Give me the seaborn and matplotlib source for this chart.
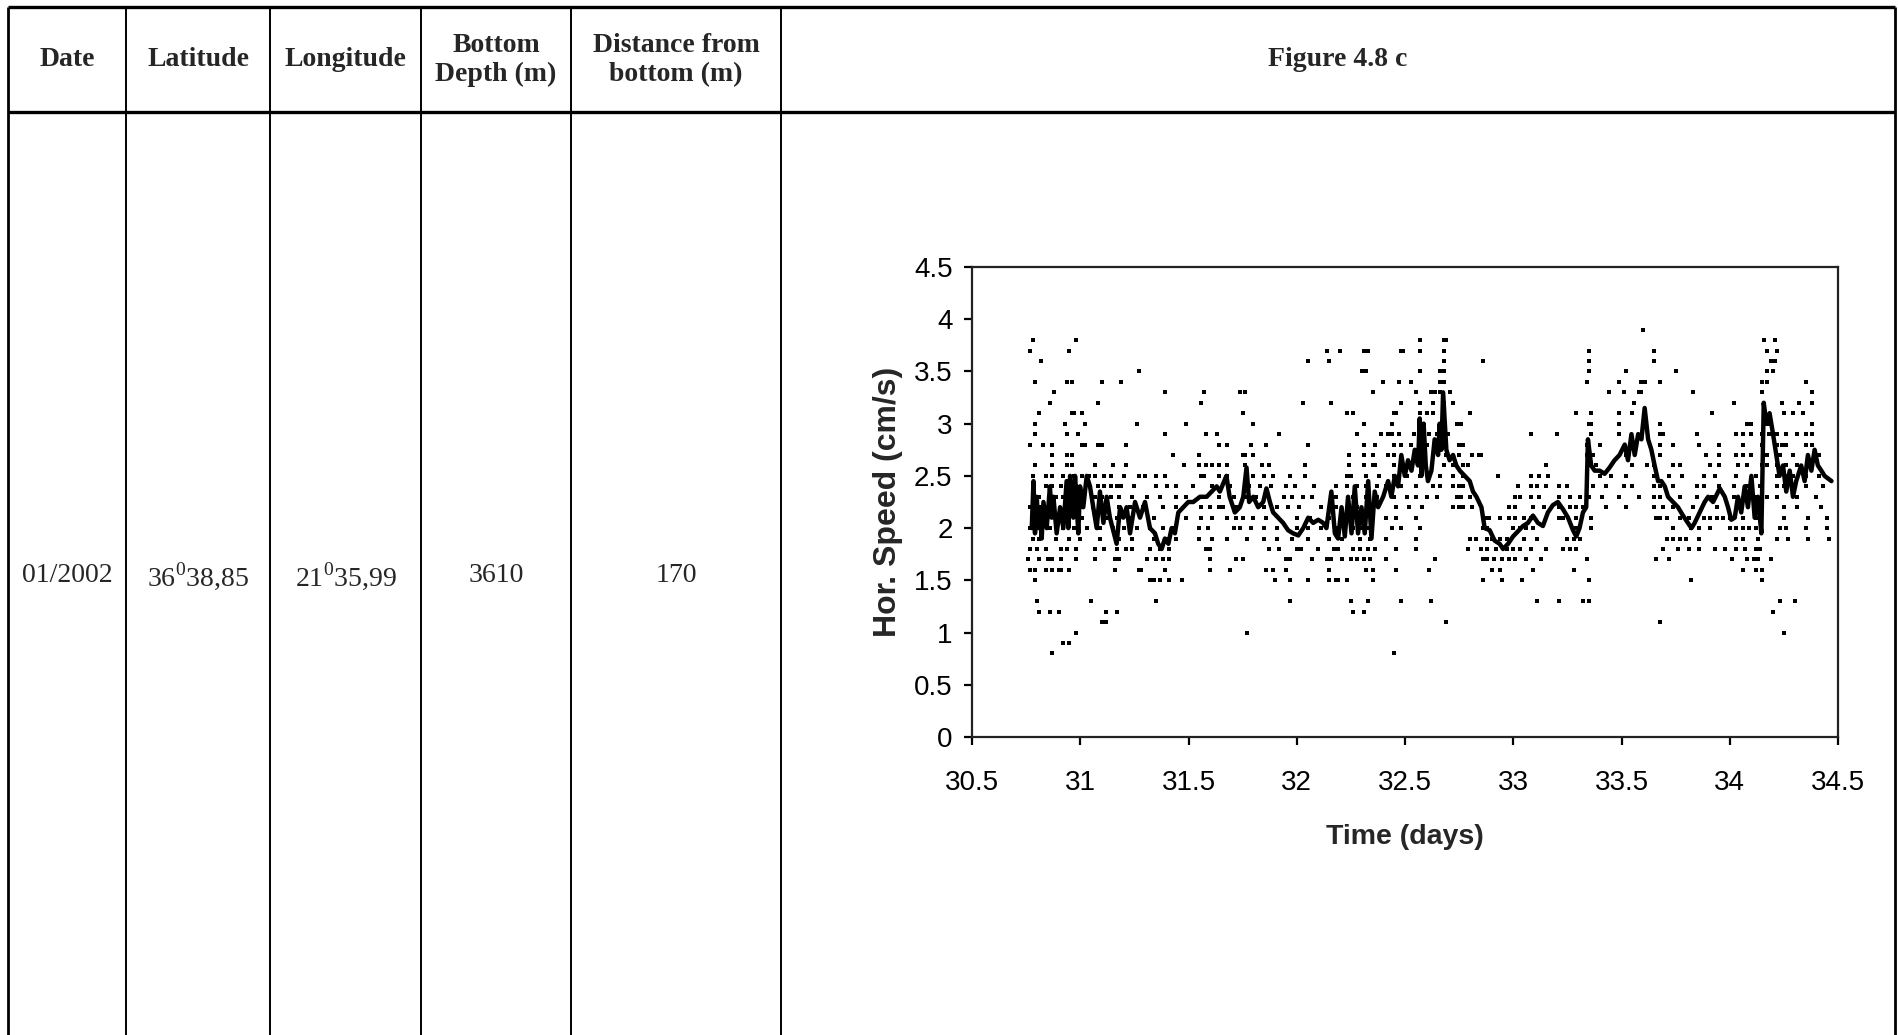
import numpy as np
import pandas as pd
import matplotlib
matplotlib.use("Agg")
import matplotlib.pyplot as plt
import seaborn as sns
from matplotlib.lines import Line2D

# ---------------- table cells ----------------
headers = ["Date", "Latitude", "Longitude", "Bottom\nDepth (m)",
           "Distance from\nbottom (m)", "Figure 4.8 c"]
row_values = ["01/2002", "36$^0$38,85", "21$^0$35,99", "3610", "170"]

# ---------------- running mean of horizontal speed ----------------
mean_time = [
    30.776, 30.784, 30.791, 30.799, 30.807, 30.814, 30.822, 30.830, 30.845, 30.860,
    30.868, 30.876, 30.891, 30.907, 30.922, 30.937, 30.945, 30.953, 30.968, 30.976,
    30.991, 30.999, 31.014, 31.030, 31.045, 31.060, 31.076, 31.091, 31.107, 31.122,
    31.137, 31.168, 31.184, 31.199, 31.214, 31.230, 31.253, 31.276, 31.299, 31.322,
    31.345, 31.360, 31.376, 31.391, 31.407, 31.422, 31.437, 31.453, 31.476, 31.499,
    31.522, 31.553, 31.584, 31.607, 31.630, 31.645, 31.665, 31.675, 31.690, 31.714,
    31.737, 31.753, 31.768, 31.780, 31.799, 31.822, 31.845, 31.860, 31.876, 31.891,
    31.914, 31.937, 31.960, 31.983, 32.007, 32.030, 32.053, 32.076, 32.099, 32.122,
    32.137, 32.160, 32.176, 32.191, 32.207, 32.222, 32.237, 32.253, 32.268, 32.283,
    32.299, 32.314, 32.330, 32.345, 32.360, 32.376, 32.399, 32.422, 32.437, 32.453,
    32.468, 32.483, 32.499, 32.514, 32.530, 32.545, 32.560, 32.568, 32.576, 32.586,
    32.596, 32.606, 32.622, 32.637, 32.653, 32.660, 32.668, 32.676, 32.691, 32.706,
    32.722, 32.737, 32.753, 32.776, 32.799, 32.814, 32.830, 32.853, 32.868, 32.891,
    32.914, 32.937, 32.953, 32.976, 32.999, 33.022, 33.045, 33.068, 33.091, 33.114,
    33.137, 33.160, 33.183, 33.206, 33.230, 33.253, 33.276, 33.291, 33.306, 33.322,
    33.337, 33.345, 33.360, 33.376, 33.399, 33.422, 33.445, 33.468, 33.491, 33.515,
    33.530, 33.546, 33.561, 33.577, 33.592, 33.607, 33.623, 33.638, 33.653, 33.669,
    33.684, 33.700, 33.715, 33.738, 33.761, 33.784, 33.807, 33.823, 33.838, 33.861,
    33.884, 33.900, 33.923, 33.954, 33.977, 33.992, 34.007, 34.023, 34.038, 34.053,
    34.069, 34.084, 34.100, 34.115, 34.130, 34.146, 34.157, 34.169, 34.184, 34.200,
    34.215, 34.230, 34.246, 34.261, 34.277, 34.292, 34.307, 34.330, 34.346, 34.361,
    34.377, 34.392, 34.407, 34.423, 34.438, 34.470,
]
mean_speed = [
    2.00, 2.45, 1.95, 2.30, 2.00, 2.20, 1.90, 2.25, 2.00, 2.40,
    2.10, 2.30, 1.95, 2.20, 2.00, 2.45, 2.00, 2.50, 2.10, 2.50,
    1.95, 2.40, 2.20, 2.50, 2.40, 2.20, 2.00, 2.35, 2.05, 2.30,
    2.10, 1.85, 2.20, 2.10, 2.20, 1.95, 2.25, 2.10, 2.25, 2.00,
    1.95, 1.85, 1.80, 1.90, 1.85, 2.00, 1.95, 2.15, 2.20, 2.25,
    2.25, 2.30, 2.30, 2.35, 2.40, 2.35, 2.45, 2.50, 2.30, 2.15,
    2.20, 2.30, 2.58, 2.25, 2.30, 2.20, 2.25, 2.38, 2.25, 2.15,
    2.10, 2.05, 1.98, 1.95, 1.93, 2.00, 2.10, 2.05, 2.08, 2.05,
    2.00, 2.35, 1.95, 1.90, 2.20, 1.92, 2.30, 1.95, 2.40, 1.95,
    2.20, 1.95, 2.45, 1.90, 2.35, 2.20, 2.30, 2.45, 2.30, 2.50,
    2.40, 2.70, 2.50, 2.65, 2.55, 2.75, 2.60, 3.05, 2.50, 3.00,
    2.60, 2.45, 2.55, 2.85, 2.70, 3.00, 2.75, 3.30, 2.75, 2.65,
    2.70, 2.60, 2.55, 2.50, 2.45, 2.35, 2.30, 2.20, 2.00, 1.98,
    1.88, 1.85, 1.80, 1.85, 1.92, 1.97, 2.02, 2.05, 2.12, 2.05,
    2.02, 2.15, 2.22, 2.25, 2.18, 2.10, 1.98, 1.92, 2.00, 2.15,
    2.20, 2.85, 2.60, 2.55, 2.55, 2.52, 2.58, 2.65, 2.70, 2.80,
    2.65, 2.90, 2.70, 2.90, 2.85, 3.15, 2.85, 2.75, 2.60, 2.45,
    2.45, 2.40, 2.30, 2.25, 2.20, 2.12, 2.05, 2.00, 2.05, 2.15,
    2.25, 2.30, 2.25, 2.38, 2.30, 2.20, 2.08, 2.10, 2.30, 2.15,
    2.40, 2.20, 2.50, 2.10, 2.30, 1.95, 3.20, 3.00, 3.10, 2.90,
    2.70, 2.50, 2.60, 2.35, 2.55, 2.30, 2.45, 2.60, 2.45, 2.70,
    2.55, 2.75, 2.60, 2.55, 2.50, 2.45,
]

# ---------------- raw samples: times (days) recorded at each speed level ----------------
t_3_9 = [33.60]
t_3_8 = [30.78, 30.98, 32.57, 32.68, 32.69, 34.16, 34.21]
t_3_7 = [30.77, 30.95, 32.14, 32.20, 32.31, 32.33, 32.48, 32.49, 32.57, 32.68, 33.35,
         33.65, 34.17, 34.22]
t_3_6 = [30.82, 32.05, 32.15, 32.68, 32.86, 33.35, 33.65, 34.19, 34.21]
t_3_5 = [31.27, 32.30, 32.32, 32.57, 32.66, 32.68, 33.35, 33.52, 33.75, 34.17, 34.20]
t_3_4 = [30.79, 30.94, 30.96, 31.10, 31.19, 32.40, 32.47, 32.53, 32.66, 32.68, 33.34,
         33.49, 33.59, 33.61, 33.68, 34.15, 34.17, 34.35]
t_3_3 = [30.88, 31.39, 31.57, 31.74, 31.76, 32.35, 32.55, 32.62, 32.64, 32.66, 32.71,
         33.44, 33.51, 33.58, 33.59, 33.83, 34.15, 34.38]
t_3_2 = [30.86, 31.08, 31.56, 32.03, 32.16, 32.48, 32.57, 32.63, 32.68, 32.72, 33.56,
         34.02, 34.24, 34.32, 34.38]
t_3_1 = [30.81, 30.96, 30.97, 31.01, 31.75, 32.23, 32.26, 32.45, 32.46, 32.57, 32.60,
         32.63, 32.68, 32.80, 33.29, 33.36, 33.49, 33.55, 33.92, 34.25, 34.29, 34.34]
t_3_0 = [30.79, 30.93, 31.02, 31.26, 31.49, 31.80, 32.31, 32.44, 32.66, 32.74, 32.76,
         33.35, 33.36, 33.49, 33.68, 34.08, 34.10, 34.17, 34.19, 34.38]
t_2_9 = [30.79, 30.94, 30.99, 31.39, 31.58, 31.63, 31.92, 32.28, 32.39, 32.42, 32.44,
         32.47, 32.54, 32.61, 32.65, 32.70, 33.08, 33.20, 33.36, 33.49, 33.68, 33.69,
         33.85, 34.03, 34.06, 34.10, 34.15, 34.18, 34.22, 34.26, 34.31, 34.35, 34.38]
t_2_8 = [30.77, 30.83, 30.87, 31.01, 31.02, 31.08, 31.10, 31.21, 31.64, 31.68, 31.79,
         31.86, 32.05, 32.31, 32.36, 32.45, 32.48, 32.53, 32.60, 32.66, 32.75, 32.77,
         33.34, 33.40, 33.54, 33.68, 33.74, 33.86, 33.95, 34.06, 34.15, 34.22, 34.24,
         34.26, 34.35, 34.38]
t_2_7 = [30.87, 30.94, 30.96, 31.43, 31.55, 31.75, 31.76, 31.80, 32.24, 32.31, 32.35,
         32.42, 32.45, 32.56, 32.69, 32.75, 32.81, 32.84, 32.85, 33.34, 33.37, 33.52,
         33.68, 33.89, 33.95, 34.03, 34.06, 34.10, 34.17, 34.23, 34.29, 34.41]
t_2_6 = [30.79, 30.87, 30.94, 30.96, 31.07, 31.15, 31.21, 31.48, 31.55, 31.58, 31.61,
         31.64, 31.68, 31.76, 31.84, 31.87, 32.04, 32.24, 32.31, 32.35, 32.36, 32.45,
         32.48, 32.57, 32.68, 32.72, 32.77, 32.79, 33.15, 33.35, 33.38, 33.55, 33.62,
         33.65, 33.74, 33.77, 33.91, 33.95, 34.04, 34.08, 34.15, 34.17, 34.22, 34.26,
         34.31]
t_2_5 = [30.78, 30.84, 30.87, 30.92, 30.97, 31.01, 31.04, 31.07, 31.11, 31.14, 31.20,
         31.27, 31.30, 31.35, 31.39, 31.56, 31.57, 31.64, 31.68, 31.80, 31.85, 31.89,
         31.97, 32.04, 32.23, 32.25, 32.32, 32.38, 32.45, 32.51, 32.57, 32.66, 32.72,
         32.77, 32.93, 33.08, 33.12, 33.16, 33.34, 33.40, 33.45, 33.52, 33.65, 33.66,
         33.72, 33.78, 33.88, 33.93, 34.03, 34.12, 34.22, 34.26, 34.29, 34.35, 34.41]
t_2_4 = [30.78, 30.84, 30.87, 30.91, 30.94, 30.98, 31.08, 31.11, 31.14, 31.17, 31.19,
         31.25, 31.35, 31.40, 31.44, 31.52, 31.61, 31.69, 31.78, 31.83, 31.88, 31.95,
         31.99, 32.08, 32.18, 32.23, 32.28, 32.32, 32.37, 32.41, 32.48, 32.55, 32.63,
         32.66, 32.72, 32.75, 32.77, 33.02, 33.08, 33.11, 33.15, 33.21, 33.25, 33.34,
         33.37, 33.43, 33.51, 33.55, 33.65, 33.68, 33.74, 33.85, 33.88, 33.95, 34.02,
         34.08, 34.14, 34.22, 34.25, 34.35, 34.43]
t_2_3 = [30.78, 30.81, 30.86, 30.89, 30.92, 30.98, 31.07, 31.10, 31.14, 31.18, 31.24,
         31.31, 31.37, 31.44, 31.49, 31.57, 31.64, 31.71, 31.77, 31.81, 31.94, 31.98,
         32.03, 32.07, 32.18, 32.26, 32.32, 32.37, 32.45, 32.51, 32.55, 32.60, 32.65,
         32.74, 32.76, 32.80, 33.01, 33.03, 33.08, 33.12, 33.21, 33.26, 33.31, 33.35,
         33.41, 33.49, 33.58, 33.65, 33.68, 33.77, 33.85, 33.92, 34.02, 34.12, 34.17,
         34.22, 34.31, 34.40]
t_2_2 = [30.77, 30.81, 30.87, 30.94, 31.00, 31.06, 31.12, 31.18, 31.23, 31.29, 31.38,
         31.44, 31.56, 31.60, 31.64, 31.66, 31.72, 31.85, 31.91, 31.96, 32.01, 32.11,
         32.18, 32.28, 32.34, 32.46, 32.52, 32.58, 32.72, 32.75, 32.77, 32.81, 32.98,
         33.01, 33.09, 33.14, 33.21, 33.26, 33.29, 33.32, 33.43, 33.52, 33.65, 33.69,
         33.74, 33.83, 33.94, 34.11, 34.25, 34.31, 34.42]
t_2_1 = [30.78, 30.83, 30.89, 30.95, 31.01, 31.07, 31.12, 31.17, 31.24, 31.34, 31.49,
         31.56, 31.61, 31.68, 31.72, 31.75, 31.80, 31.86, 32.00, 32.06, 32.15, 32.21,
         32.29, 32.35, 32.41, 32.46, 32.55, 32.88, 32.89, 32.94, 32.98, 33.01, 33.05,
         33.08, 33.21, 33.23, 33.29, 33.36, 33.66, 33.68, 33.71, 33.77, 33.81, 33.88,
         33.91, 33.94, 33.97, 34.00, 34.06, 34.12, 34.25, 34.36, 34.45]
t_2_0 = [30.77, 30.81, 30.86, 30.92, 30.97, 31.03, 31.09, 31.15, 31.20, 31.26, 31.32,
         31.38, 31.43, 31.55, 31.59, 31.71, 31.74, 31.79, 31.85, 31.91, 32.00, 32.05,
         32.11, 32.18, 32.26, 32.29, 32.33, 32.44, 32.48, 32.57, 32.86, 32.88, 33.00,
         33.03, 33.06, 33.09, 33.29, 33.36, 33.74, 33.82, 33.86, 33.91, 34.00, 34.03,
         34.06, 34.09, 34.12, 34.23, 34.26, 34.35, 34.45]
t_1_9 = [30.78, 30.81, 30.89, 30.95, 31.00, 31.09, 31.18, 31.24, 31.34, 31.40, 31.44,
         31.55, 31.61, 31.68, 31.77, 31.85, 31.91, 31.98, 32.05, 32.15, 32.21, 32.29,
         32.34, 32.41, 32.55, 32.80, 32.83, 32.88, 32.90, 32.94, 32.97, 33.05, 33.11,
         33.25, 33.28, 33.31, 33.71, 33.74, 33.77, 33.80, 33.86, 34.03, 34.06, 34.13,
         34.22, 34.27, 34.36, 34.46]
t_1_8 = [30.77, 30.80, 30.84, 30.91, 30.94, 30.98, 31.07, 31.11, 31.17, 31.21, 31.24,
         31.32, 31.37, 31.41, 31.58, 31.60, 31.87, 31.92, 32.00, 32.02, 32.10, 32.17,
         32.19, 32.26, 32.29, 32.33, 32.36, 32.46, 32.55, 32.79, 32.85, 32.88, 32.92,
         32.97, 33.00, 33.03, 33.08, 33.15, 33.23, 33.26, 33.29, 33.69, 33.76, 33.81,
         33.86, 33.93, 33.98, 34.03, 34.07, 34.12, 34.14]
t_1_7 = [30.76, 30.81, 30.85, 30.87, 30.91, 30.98, 31.07, 31.16, 31.18, 31.31, 31.35,
         31.38, 31.41, 31.60, 31.72, 31.75, 31.95, 31.97, 32.07, 32.14, 32.16, 32.21,
         32.25, 32.28, 32.31, 32.34, 32.41, 32.64, 32.86, 32.88, 32.91, 32.95, 32.98,
         33.01, 33.06, 33.13, 33.34, 33.66, 33.72, 34.01, 34.08, 34.11, 34.13, 34.19]
t_1_6 = [30.77, 30.79, 30.84, 30.87, 30.90, 30.91, 30.95, 31.16, 31.27, 31.28, 31.39,
         31.60, 31.69, 31.86, 31.89, 31.95, 32.15, 32.32, 32.35, 32.46, 32.61, 32.90,
         32.94, 33.09, 33.28, 34.06, 34.12, 34.15]
t_1_5 = [30.79, 31.32, 31.34, 31.37, 31.41, 31.47, 31.90, 31.97, 32.05, 32.15, 32.18,
         32.19, 32.23, 32.35, 32.86, 32.95, 33.04, 33.35, 33.82, 34.15]
t_1_3 = [30.80, 31.05, 31.35, 31.97, 32.25, 32.33, 32.48, 32.62, 33.11, 33.21, 33.32,
         33.35, 34.23, 34.30]
t_1_2 = [30.81, 30.86, 30.90, 31.12, 31.17, 32.26, 32.31, 34.20]
t_1_1 = [31.10, 31.12, 32.69, 33.68]
t_1_0 = [30.98, 31.77, 34.25]
t_0_9 = [30.92, 30.95]
t_0_8 = [30.87, 32.45]

speed_levels = {
    3.9: t_3_9, 3.8: t_3_8, 3.7: t_3_7, 3.6: t_3_6, 3.5: t_3_5, 3.4: t_3_4,
    3.3: t_3_3, 3.2: t_3_2, 3.1: t_3_1, 3.0: t_3_0, 2.9: t_2_9, 2.8: t_2_8,
    2.7: t_2_7, 2.6: t_2_6, 2.5: t_2_5, 2.4: t_2_4, 2.3: t_2_3, 2.2: t_2_2,
    2.1: t_2_1, 2.0: t_2_0, 1.9: t_1_9, 1.8: t_1_8, 1.7: t_1_7, 1.6: t_1_6,
    1.5: t_1_5, 1.3: t_1_3, 1.2: t_1_2, 1.1: t_1_1, 1.0: t_1_0, 0.9: t_0_9,
    0.8: t_0_8,
}
raw = pd.DataFrame(
    [(t, lvl) for lvl, times in speed_levels.items() for t in times],
    columns=["time", "speed"],
)
smooth = pd.DataFrame({"time": mean_time, "speed": mean_speed})

# ---------------- figure ----------------
sns.set_theme(style="ticks")
plt.rcParams["font.family"] = ["Liberation Sans", "DejaVu Sans"]
plt.rcParams["mathtext.fontset"] = "custom"
plt.rcParams["mathtext.rm"] = "Liberation Serif"

W, H = 1898, 1035
fig = plt.figure(figsize=(W / 100, H / 100), dpi=100, facecolor="white")


def fx(px):
    return px / W


def fy(py):
    return 1 - py / H


# table grid
grid_kw = dict(transform=fig.transFigure, color="black", solid_capstyle="butt")
top, head_bottom = 7, 112
col_edges = [8, 126, 270, 421, 571, 781, 1895]
for i, x in enumerate(col_edges):
    lw = 2.0 if i in (0, len(col_edges) - 1) else 1.4
    fig.add_artist(Line2D([fx(x), fx(x)], [fy(top), 0], lw=lw, **grid_kw))
for y, lw in ((top, 2.4), (head_bottom, 2.4)):
    fig.add_artist(Line2D([fx(col_edges[0]), fx(col_edges[-1])], [fy(y), fy(y)], lw=lw, **grid_kw))

serif = ["Liberation Serif", "DejaVu Serif"]
centers = [(a + b) / 2 for a, b in zip(col_edges[:-1], col_edges[1:])]
for cx, text in zip(centers, headers):
    fig.text(fx(cx), fy(60), text, ha="center", va="center", family=serif,
             fontweight="bold", fontsize=20, linespacing=1.2)
for cx, text in zip(centers, row_values):
    fig.text(fx(cx), fy(576), text, ha="center", va="center", family=serif,
             fontsize=20)

# embedded chart
ax = fig.add_axes([fx(972), fy(737), fx(1838) - fx(972), (737 - 267) / H])
sns.scatterplot(data=raw, x="time", y="speed", ax=ax, marker="s", s=12,
                color="black", linewidth=0, zorder=2)
sns.lineplot(data=smooth, x="time", y="speed", ax=ax, sort=False, estimator=None,
             color="black", lw=3.2, zorder=3)

ax.set_xlim(30.5, 34.5)
ax.set_ylim(0, 4.5)
xt = np.arange(30.5, 34.51, 0.5)
yt = np.arange(0, 4.51, 0.5)
ax.set_xticks(xt)
ax.set_xticklabels([f"{v:g}" for v in xt])
ax.set_yticks(yt)
ax.set_yticklabels([f"{v:g}" for v in yt])
ax.tick_params(axis="both", direction="out", length=6, width=1.6, color="black",
               labelsize=20, labelcolor="black")
ax.tick_params(axis="x", pad=18)
ax.tick_params(axis="y", pad=8)
for side in ("left", "right", "top", "bottom"):
    ax.spines[side].set_visible(True)
    ax.spines[side].set_color("#222222")
    ax.spines[side].set_linewidth(1.6)
ax.set_xlabel("Time (days)", fontsize=20.5, fontweight="bold", labelpad=20)
ax.set_ylabel("Hor. Speed (cm/s)", fontsize=23, fontweight="bold", labelpad=8)
ax.set_facecolor("white")

fig.savefig("out.png", dpi=100, facecolor="white")
